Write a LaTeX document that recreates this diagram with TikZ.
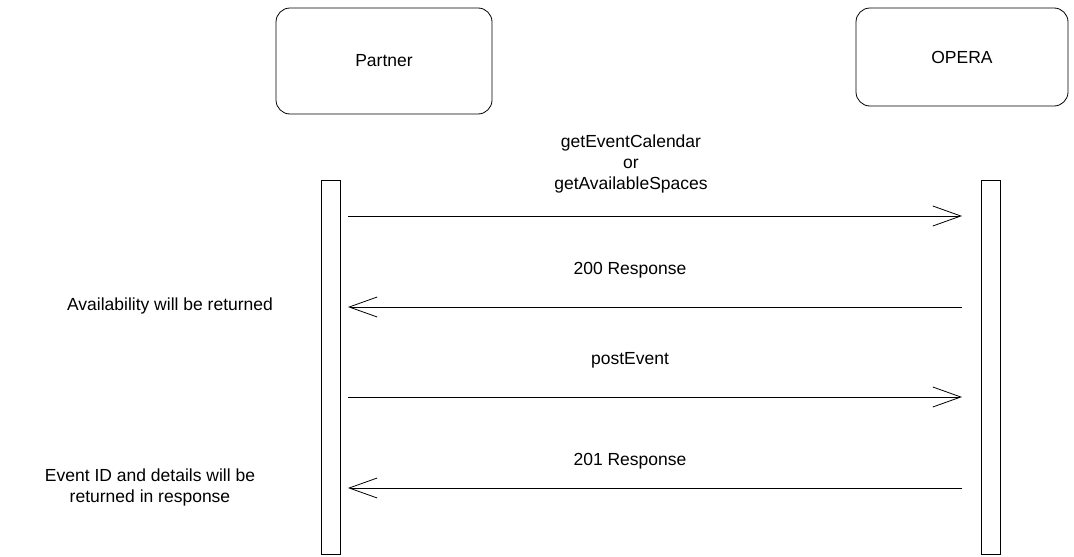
\documentclass[tikz,border=0pt]{standalone}
\usepackage{fontspec}
\setmainfont{Liberation Sans}
\usetikzlibrary{positioning, calc, arrows.meta}
\tikzset{
  %% actor : participant box on top
  actor/.style={
    rectangle,
    draw=black,
    rounded corners=14pt,
    minimum width=216pt,
    minimum height=106pt,
    align=center
  },
  %% lifeline : activation bar
  lifeline/.style={
    rectangle,
    draw=black,
    minimum width=19pt,
    minimum height=374pt,
    inner sep=0pt
  },
  %% msg : message arrow
  msg/.style={-{Straight Barb[length=28pt,width=20pt]}, line width=0.8pt},
  %% note : free text
  note/.style={align=center}
}
\begin{document}
\begin{tikzpicture}
  [x=1pt,
  y=-1pt,
  line width=0.8pt,
  font=\fontsize{17.5}{21}\selectfont]

  \useasboundingbox (0,0) rectangle (1074,557);

  %% Participants
  \node (partner) [actor] at (384,61) {Partner};
  \node (opera) [actor, minimum width=212pt, minimum height=98pt] at (962,57) {OPERA};

  %% Lifelines
  \node (barp) [lifeline] at (330.5,367) {};
  \node (baro) [lifeline] at (991,367) {};

  \coordinate (p1) at (348,216);  \coordinate (o1) at (962,216);
  \coordinate (p2) at (348,307);  \coordinate (o2) at (962,307);
  \coordinate (p3) at (348,397);  \coordinate (o3) at (962,397);
  \coordinate (p4) at (348,488);  \coordinate (o4) at (962,488);

  %% Messages
  \draw [msg] (p1) -- (o1);
  \node (lbl1) [note] at (631,164) {getEventCalendar\\or\\getAvailableSpaces};

  \draw [msg] (o2) -- (p2);
  \node (lbl2) [note] at (630,270) {200 Response};

  \draw [msg] (p3) -- (o3);
  \node (lbl3) [note] at (630,360) {postEvent};

  \draw [msg] (o4) -- (p4);
  \node (lbl4) [note] at (630,461) {201 Response};

  %% Notes
  \node (avail) [note] at (170,306) {Availability will be returned};
  \node (eventid) [note] at (150,487) {Event ID and details will be\\returned in response};

\end{tikzpicture}
\end{document}
